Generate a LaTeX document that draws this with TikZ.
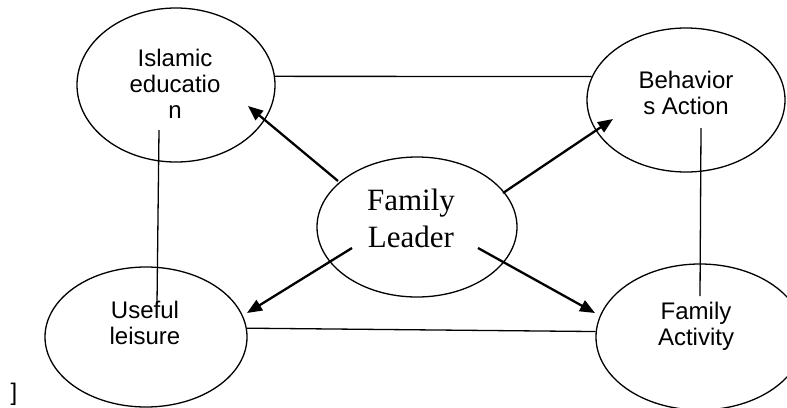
\documentclass[tikz,border=0pt]{standalone}
\usepackage{fontspec}
\setmainfont{Liberation Serif}
\newfontfamily\arialfont{Liberation Sans}
\usetikzlibrary{arrows.meta,shapes.geometric}
\begin{document}
\begin{tikzpicture}[x=1pt,y=-1pt,
  bubble/.style={draw,ellipse,line width=1.3pt,inner sep=0pt},
  sanslabel/.style={font=\arialfont\fontsize{24}{26}\selectfont,align=center,inner sep=0pt},
  seriflabel/.style={font=\fontsize{31}{37}\selectfont,align=center,inner sep=0pt},
  thinline/.style={line width=1.3pt},
  arrowline/.style={line width=2.3pt,-{Triangle[length=15pt,width=12pt]}}]
\useasboundingbox (0,0) rectangle (787,407);
% ellipses
\node[bubble,minimum width=198pt,minimum height=154pt] (ie) at (176,85) {};
\node[bubble,minimum width=198pt,minimum height=144pt] (ba) at (686,100) {};
\node[bubble,minimum width=202pt,minimum height=140pt] (ul) at (146,337) {};
\node[bubble,minimum width=208pt,minimum height=146pt] (fa) at (700,337) {};
\node[bubble,minimum width=200pt,minimum height=140pt] (fl) at (417,227) {};
% labels
\node[sanslabel] (iet) at (175,84) {Islamic\\educatio\\n};
\node[sanslabel] (bat) at (686,93) {Behavior\\s Action};
\node[sanslabel] (ult) at (145,323) {Useful\\leisure};
\node[sanslabel] (fat) at (696,326) {Family\\Activity};
\node[seriflabel] (flt) at (411,218) {Family\\Leader};
\node[font=\arialfont\fontsize{24}{26}\selectfont,anchor=base,inner sep=0pt] (br) at (14,400) {]};
% free ends
\coordinate (ieB) at (159,130);
\coordinate (ulT) at (157,304);
\coordinate (baB) at (701,128);
\coordinate (faT) at (700,296);
\coordinate (fl1) at (338,181); \coordinate (ie1) at (248,106);
\coordinate (fl2) at (503,193); \coordinate (ba1) at (613,119);
\coordinate (fl3) at (352,248); \coordinate (ul1) at (247,313);
\coordinate (fl4) at (478,248); \coordinate (fa1) at (595,313);
% plain connectors
\draw[thinline] (ie.5) -- (ba.166);
\draw[thinline] (ul.5) -- (fa.177);
\draw[thinline] (ieB) -- (ulT);
\draw[thinline] (baB) -- (faT);
% arrows
\draw[arrowline] (fl1) -- (ie1);
\draw[arrowline] (fl2) -- (ba1);
\draw[arrowline] (fl3) -- (ul1);
\draw[arrowline] (fl4) -- (fa1);
\end{tikzpicture}
\end{document}
